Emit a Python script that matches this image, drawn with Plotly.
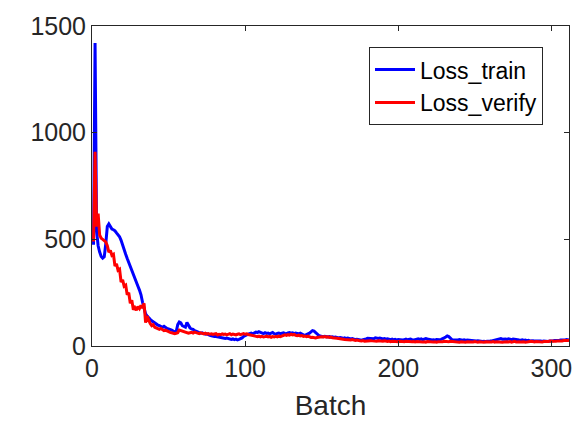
import plotly.graph_objects as go

# Loss per batch for the training set (312 batches)
loss_train = [
    475, 1420, 540, 470, 440, 420, 412, 418, 480, 560,
    572, 560, 548, 545, 540, 530, 520, 512, 495, 470,
    452, 430, 410, 390, 372, 350, 330, 315, 295, 280,
    262, 240, 205, 175, 150, 140, 130, 125, 118, 112,
    108, 100, 98, 95, 90, 88, 92, 85, 82, 80,
    78, 75, 70, 66, 68, 100, 112, 108, 95, 90,
    88, 110, 95, 85, 80, 78, 72, 70, 66, 62,
    60, 62, 58, 55, 57, 52, 50, 48, 45, 44,
    44, 42, 40, 41, 38, 36, 35, 37, 34, 32,
    31, 33, 30, 32, 29, 31, 34, 38, 45, 50,
    52, 55, 58, 60, 57, 62, 65, 63, 67, 64,
    60, 58, 62, 59, 61, 57, 60, 63, 58, 56,
    59, 61, 58, 60, 62, 59, 57, 61, 63, 60,
    62, 58, 61, 59, 57, 60, 55, 52, 50, 53,
    56, 60, 66, 72, 70, 62, 55, 50, 47, 45,
    44, 46, 43, 42, 44, 41, 43, 40, 42, 39,
    38, 40, 37, 36, 38, 35, 37, 34, 33, 35,
    32, 30, 31, 29, 28, 27, 29, 30, 33, 36,
    35, 37, 36, 34, 38, 36, 35, 37, 34, 33,
    35, 32, 34, 31, 30, 32, 29, 31, 28, 30,
    29, 31, 28, 30, 32, 29, 31, 33, 30, 28,
    30, 32, 34, 31, 33, 30, 32, 35, 33, 31,
    30, 28, 29, 27, 30, 28, 29, 31, 33, 38,
    42, 47, 44, 36, 30, 28, 27, 29, 28, 30,
    28, 27, 29, 26, 28, 27, 25, 26, 24, 25,
    23, 24, 22, 23, 21, 22, 20, 22, 21, 23,
    24, 26, 29, 32, 34, 33, 35, 32, 34, 33,
    31, 34, 32, 30, 33, 31, 29, 30, 28, 27,
    29, 26, 28, 25, 27, 24, 26, 25, 23, 24,
    22, 24, 23, 21, 23, 22, 24, 21, 23, 22,
    24, 26, 25, 27, 26, 28, 27, 29, 28, 30,
    29, 28,
]

# Loss per batch for the verification set
loss_verify = [
    490, 910, 560, 620, 520, 505, 500, 492, 488, 470,
    440, 448, 425, 430, 375, 385, 355, 360, 300, 310,
    280, 285, 240, 250, 200, 215, 170, 180, 168, 185,
    175, 190, 178, 200, 110, 140, 120, 105, 95, 100,
    88, 85, 80, 78, 82, 76, 72, 74, 70, 66,
    64, 62, 60, 58, 60, 62, 75, 72, 70, 68,
    66, 62, 60, 62, 64, 61, 65, 63, 60, 58,
    62, 59, 57, 60, 56, 58, 55, 57, 54, 56,
    58, 52, 55, 53, 57, 54, 56, 52, 55, 58,
    53, 56, 54, 52, 55, 57, 53, 56, 58, 55,
    57, 54, 52, 50, 48, 47, 45, 44, 46, 43,
    45, 42, 44, 46, 43, 45, 41, 44, 42, 45,
    43, 46, 44, 47, 49, 52, 50, 53, 51, 55,
    52, 54, 50, 48, 51, 47, 49, 45, 47, 44,
    46, 42, 40, 41, 39, 38, 40, 42, 44, 43,
    42, 44, 41, 43, 40, 42, 39, 37, 38, 36,
    35, 33, 34, 32, 31, 30, 32, 29, 28, 30,
    27, 26, 28, 25, 24, 23, 25, 22, 23, 24,
    26, 25, 24, 23, 25, 22, 24, 23, 21, 22,
    24, 22, 21, 23, 20, 22, 21, 19, 21, 20,
    22, 21, 19, 20, 22, 21, 20, 18, 20, 21,
    19, 21, 20, 22, 21, 19, 20, 18, 21, 20,
    22, 21, 19, 20, 18, 20, 19, 21, 20, 22,
    21, 19, 20, 22, 21, 20, 19, 21, 20, 18,
    20, 19, 21, 18, 20, 19, 18, 20, 19, 21,
    19, 18, 20, 19, 21, 18, 20, 19, 18, 20,
    19, 21, 18, 20, 19, 21, 20, 18, 19, 21,
    20, 19, 21, 18, 20, 22, 19, 21, 20, 19,
    21, 20, 18, 20, 19, 21, 22, 20, 19, 21,
    20, 22, 21, 19, 21, 20, 22, 21, 23, 22,
    21, 23, 22, 24, 23, 25, 24, 26, 25, 27,
    26, 27,
]

batch_train = list(range(1, len(loss_train) + 1))
batch_verify = list(range(1, len(loss_verify) + 1))

x_ticks = [0, 100, 200, 300]
y_ticks = [0, 500, 1000, 1500]

FONT = "Liberation Sans, Arial, sans-serif"
INK = "#262626"

fig = go.Figure()
fig.add_trace(go.Scatter(
    x=batch_train, y=loss_train, mode="lines", name="Loss_train",
    line=dict(color="#0000FF", width=3),
))
fig.add_trace(go.Scatter(
    x=batch_verify, y=loss_verify, mode="lines", name="Loss_verify",
    line=dict(color="#FF0000", width=3),
))

axis_common = dict(
    showline=True, linecolor=INK, linewidth=1, mirror="ticks",
    ticks="inside", ticklen=5, tickwidth=1, tickcolor=INK,
    showgrid=False, zeroline=False, automargin=False,
    tickfont=dict(family=FONT, size=25, color=INK),
)

fig.update_layout(
    width=576, height=421,
    margin=dict(l=92, r=7, t=26, b=75),
    paper_bgcolor="white", plot_bgcolor="white",
    font=dict(family=FONT, color=INK),
    xaxis=dict(
        range=[0, 311.5], tickvals=x_ticks,
        title=dict(text="Batch", font=dict(family=FONT, size=28, color=INK), standoff=14),
        **axis_common,
    ),
    yaxis=dict(range=[0, 1500], tickvals=y_ticks, **axis_common),
    legend=dict(
        x=0.9455, y=0.934, xanchor="right", yanchor="top",
        bgcolor="white", bordercolor=INK, borderwidth=1,
        font=dict(family=FONT, size=23, color="black"),
        tracegroupgap=0, itemwidth=40,
    ),
    showlegend=True,
)

fig.write_html("out.html")
